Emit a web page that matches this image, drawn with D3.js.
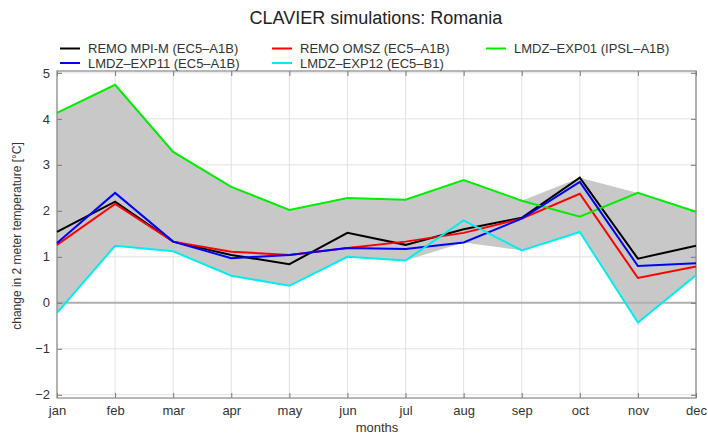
<!DOCTYPE html>
<html><head><meta charset="utf-8">
<script src="https://cdn.jsdelivr.net/npm/d3@7"></script>
<style>body{margin:0;background:#fff}svg{display:block}text{font-family:"Liberation Sans",Arial,sans-serif}</style>
</head><body><svg id="c" width="708" height="435"></svg>
<script>
const months = ["jan","feb","mar","apr","may","jun","jul","aug","sep","oct","nov","dec"];
const yTicks = [-2,-1,0,1,2,3,4,5];
const seriesNames = ["REMO MPI-M (EC5–A1B)","REMO OMSZ (EC5–A1B)","LMDZ–EXP01 (IPSL–A1B)","LMDZ–EXP11 (EC5–A1B)","LMDZ–EXP12 (EC5–B1)"];
const seriesColors = ["#000000","#ff0000","#00ee00","#0000ff","#00eeee"];
const remoMpi = [1.54,2.20,1.33,1.04,0.84,1.52,1.26,1.60,1.85,2.72,0.96,1.24];
const remoOmsz = [1.26,2.15,1.33,1.11,1.04,1.19,1.33,1.52,1.83,2.37,0.54,0.79];
const lmdzExp01 = [4.13,4.74,3.28,2.52,2.02,2.28,2.24,2.67,2.22,1.87,2.39,1.98];
const lmdzExp11 = [1.30,2.39,1.33,0.97,1.04,1.19,1.17,1.31,1.83,2.63,0.80,0.86];
const lmdzExp12 = [-0.22,1.24,1.12,0.59,0.37,1.00,0.92,1.79,1.14,1.54,-0.43,0.60];
const allSeries = [remoMpi, remoOmsz, lmdzExp01, lmdzExp11, lmdzExp12];

const svg = d3.select("#c");
const L=57,R=696,T=71,B=398;
const x = d3.scalePoint().domain(months).range([L,R]);
const y = d3.scaleLinear().domain([-2.07,5.04]).range([B,T]);

const env = months.map((m,i)=>({m, lo:d3.min(allSeries,s=>s[i]), hi:d3.max(allSeries,s=>s[i])}));
const g = svg.append("g");
g.selectAll(".vg").data(months).join("line").attr("x1",d=>x(d)).attr("x2",d=>x(d)).attr("y1",T).attr("y2",B).attr("stroke","#e2e2e2").attr("stroke-width",1);
g.selectAll(".hg").data(yTicks).join("line").attr("x1",L).attr("x2",R).attr("y1",d=>y(d)).attr("y2",d=>y(d)).attr("stroke","#e2e2e2").attr("stroke-width",1);

svg.append("path").datum(env).attr("fill","#c8c8c8")
  .attr("d",d3.area().x(d=>x(d.m)).y0(d=>y(d.lo)).y1(d=>y(d.hi)));

svg.append("line").attr("x1",L).attr("x2",R).attr("y1",y(0)).attr("y2",y(0)).attr("stroke","#b0b0b0").attr("stroke-width",2);

const styleTxt = s=>s.selectAll("text").attr("font-size",13).attr("fill","#333").attr("font-family","Liberation Sans, Arial, sans-serif");
const ax = d3.axisBottom(x).tickSize(-5).tickPadding(8);
svg.append("g").attr("transform",`translate(0,${B})`).call(ax)
  .call(s=>{s.select(".domain").remove();s.selectAll("line").attr("stroke","#777");styleTxt(s);});
const ay = d3.axisLeft(y).tickValues(yTicks).tickSize(-5).tickPadding(7).tickFormat(d=>d<0?"−"+Math.abs(d):d);
svg.append("g").attr("transform",`translate(${L},0)`).call(ay)
  .call(s=>{s.select(".domain").remove();s.selectAll("line").attr("stroke","#777");styleTxt(s);});
svg.append("g").attr("transform",`translate(${R},0)`).call(d3.axisRight(y).tickValues(yTicks).tickSize(-5).tickFormat(""))
  .call(s=>{s.select(".domain").remove();s.selectAll("line").attr("stroke","#777");});
svg.append("g").attr("transform",`translate(0,${T})`).call(d3.axisTop(x).tickSize(-5).tickFormat(""))
  .call(s=>{s.select(".domain").remove();s.selectAll("line").attr("stroke","#777");});
svg.append("rect").attr("x",L).attr("y",T).attr("width",R-L).attr("height",B-T).attr("fill","none").attr("stroke","#888").attr("stroke-width",1.2);

const line = d3.line().x((d,i)=>x(months[i])).y(d=>y(d));
allSeries.forEach((s,k)=>{
  svg.append("path").datum(s).attr("fill","none").attr("stroke",seriesColors[k]).attr("stroke-width",2).attr("stroke-linejoin","miter").attr("d",line);
});

svg.append("text").attr("x",376).attr("y",24).attr("text-anchor","middle").attr("font-size",18).attr("fill","#222").text("CLAVIER simulations: Romania");
svg.append("text").attr("x",377).attr("y",432).attr("text-anchor","middle").attr("font-size",13).attr("fill","#333").text("months");
svg.append("text").attr("transform","translate(21,236) rotate(-90)").attr("text-anchor","middle").attr("font-size",12).attr("fill","#333").text("change in 2 meter temperature [°C]");

const legPos = [[60,48.5],[272,48.5],[486,48.5],[60,63],[272,63]];
seriesNames.forEach((n,k)=>{
  const [lx,ly]=legPos[k];
  svg.append("line").attr("x1",lx).attr("x2",lx+20).attr("y1",ly).attr("y2",ly).attr("stroke",seriesColors[k]).attr("stroke-width",2);
  svg.append("text").attr("x",lx+28).attr("y",ly+4.5).attr("font-size",13).attr("fill","#333").text(n);
});
</script></body></html>
